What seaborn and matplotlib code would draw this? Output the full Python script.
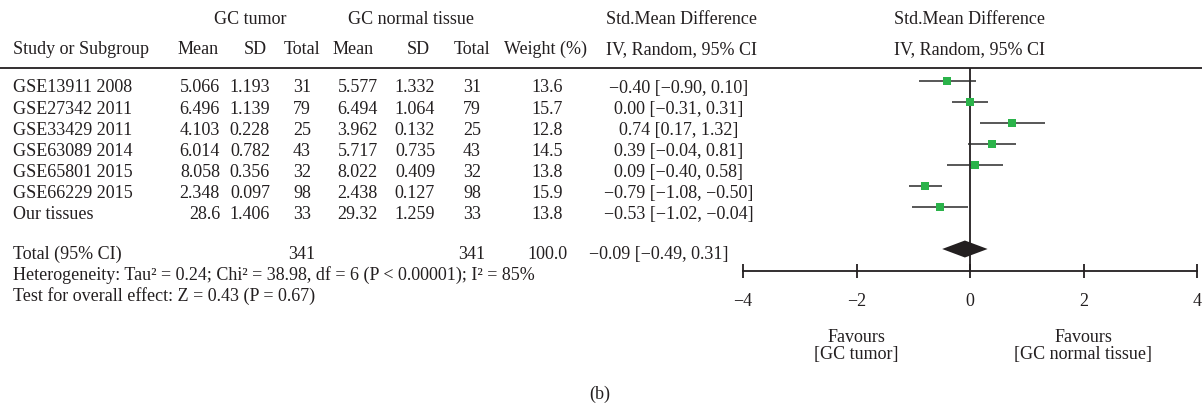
import matplotlib
matplotlib.use("Agg")
import matplotlib.pyplot as plt
import seaborn as sns
import pandas as pd

# ---- data ----
studies = ["GSE13911 2008", "GSE27342 2011", "GSE33429 2011", "GSE63089 2014",
           "GSE65801 2015", "GSE66229 2015", "Our tissues"]
tumor_mean = [5.066, 6.496, 4.103, 6.014, 8.058, 2.348, 28.6]
tumor_sd = [1.193, 1.139, 0.228, 0.782, 0.356, 0.097, 1.406]
tumor_n = [31, 79, 25, 43, 32, 98, 33]
normal_mean = [5.577, 6.494, 3.962, 5.717, 8.022, 2.438, 29.32]
normal_sd = [1.332, 1.064, 0.132, 0.735, 0.409, 0.127, 1.259]
normal_n = [31, 79, 25, 43, 32, 98, 33]
weight = [13.6, 15.7, 12.8, 14.5, 13.8, 15.9, 13.8]
smd = [-0.40, 0.00, 0.74, 0.39, 0.09, -0.79, -0.53]
ci_lo = [-0.90, -0.31, 0.17, -0.04, -0.40, -1.08, -1.02]
ci_hi = [0.10, 0.31, 1.32, 0.81, 0.58, -0.50, -0.04]

total_n_tumor = 341
total_n_normal = 341
total_weight = 100.0
total_smd = -0.09
total_lo = -0.49
total_hi = 0.31

heterogeneity = "Heterogeneity: Tau² = 0.24; Chi² = 38.98, df = 6 (P < 0.00001); I² = 85%"
overall = "Test for overall effect: Z = 0.43 (P = 0.67)"
x_ticks = [-4, -2, 0, 2, 4]

sns.set_theme(style="white")
plt.rcParams['font.family'] = ['Liberation Serif', 'DejaVu Serif']
FS = 13
TXT = "#231f20"
GREEN = "#2bb34a"
CAP = 6  # half cap height in px, to put text by its visual centre


def fmt(v):
    return f"{v:.2f}".replace("-", "\u2212")


fig = plt.figure(figsize=(12.02, 4.06), dpi=100)
ax_t = fig.add_axes([0, 0, 1, 1])
ax_t.set_xlim(0, 1202)
ax_t.set_ylim(406, 0)
ax_t.axis("off")


def put(x, y, s, ha="center"):
    ax_t.text(x, y + CAP, s, ha=ha, va="baseline", fontsize=FS, color=TXT)


# headers
put(250, 18, "GC tumor")
put(411, 18, "GC normal tissue")
put(681, 18, "Std.Mean Difference")
put(970, 18, "Std.Mean Difference")
put(13, 48, "Study or Subgroup", ha="left")
for x, s in [(198, "Mean"), (255, "SD"), (302, "Total"), (353, "Mean"),
             (418, "SD"), (472, "Total"), (545, "Weight (%)"),
             (681, "IV, Random, 95% CI"), (970, "IV, Random, 95% CI")]:
    put(x, 48, s)
ax_t.plot([0, 1202], [69, 69], color=TXT, lw=1.3)

row_y0, row_dy = 86.5, 21.05
for i, name in enumerate(studies):
    y = row_y0 + i * row_dy
    put(13, y, name, ha="left")
    put(220, y, str(tumor_mean[i]), ha="right")
    put(270, y, str(tumor_sd[i]), ha="right")
    put(302, y, str(tumor_n[i]))
    put(378, y, str(normal_mean[i]), ha="right")
    put(435, y, str(normal_sd[i]), ha="right")
    put(472, y, str(normal_n[i]))
    put(547, y, f"{weight[i]:.1f}")
    put(679, y, f"{fmt(smd[i])} [{fmt(ci_lo[i])}, {fmt(ci_hi[i])}]")

yt = 253
put(13, yt, "Total (95% CI)", ha="left")
put(302, yt, str(total_n_tumor))
put(472, yt, str(total_n_normal))
put(547, yt, f"{total_weight:.1f}")
put(659, yt, f"{fmt(total_smd)} [{fmt(total_lo)}, {fmt(total_hi)}]")
put(13, 274, heterogeneity, ha="left")
put(13, 295, overall, ha="left")
put(600, 393, "(b)")

# ---- forest panel ----
px_left, px_right, px_top, px_bot = 743, 1197, 69, 272
ax = fig.add_axes([px_left / 1202, 1 - px_bot / 406,
                   (px_right - px_left) / 1202, (px_bot - px_top) / 406])
ax.patch.set_alpha(0)
mk_y0, mk_dy = 81.7, 21.1
to_row = lambda py: (py - mk_y0) / mk_dy
ax.set_ylim(to_row(px_bot), to_row(px_top))
ax.set_xlim(-4, 4)

df = pd.DataFrame({"row": range(len(studies)), "smd": smd, "lo": ci_lo, "hi": ci_hi})
ax.hlines(df["row"], df["lo"], df["hi"], color="#2a2a2a", lw=1.1, zorder=2)
sns.scatterplot(data=df, x="smd", y="row", marker="s", s=34, color=GREEN,
                edgecolor="none", ax=ax, zorder=3)
ax.axvline(0, color=TXT, lw=1.3, zorder=1)

tr = to_row(250)
dh = 8.5 / mk_dy
ax.fill([total_lo, total_smd, total_hi, total_smd],
        [tr, tr - dh, tr, tr + dh], color=TXT, lw=0, zorder=4)

for side in ["top", "left", "right"]:
    ax.spines[side].set_visible(False)
ax.spines["bottom"].set_color(TXT)
ax.spines["bottom"].set_linewidth(1.3)
ax.set_yticks([])
ax.set_xticks(x_ticks)
ax.set_xticklabels([str(t).replace("-", "\u2212") for t in x_ticks])
ax.tick_params(axis="x", direction="inout", length=10, width=1.3, color=TXT,
               labelsize=FS, labelcolor=TXT, pad=10, bottom=True)
ax.set_xlabel("")
ax.set_ylabel("")

for xv, lab in [(-2, "[GC tumor]"), (2, "[GC normal tissue]")]:
    ax.text(xv, to_row(342), "Favours", ha="center", va="baseline", fontsize=FS,
            color=TXT, clip_on=False)
    ax.text(xv, to_row(359), lab, ha="center", va="baseline", fontsize=FS,
            color=TXT, clip_on=False)

fig.savefig("out.png", dpi=100)
